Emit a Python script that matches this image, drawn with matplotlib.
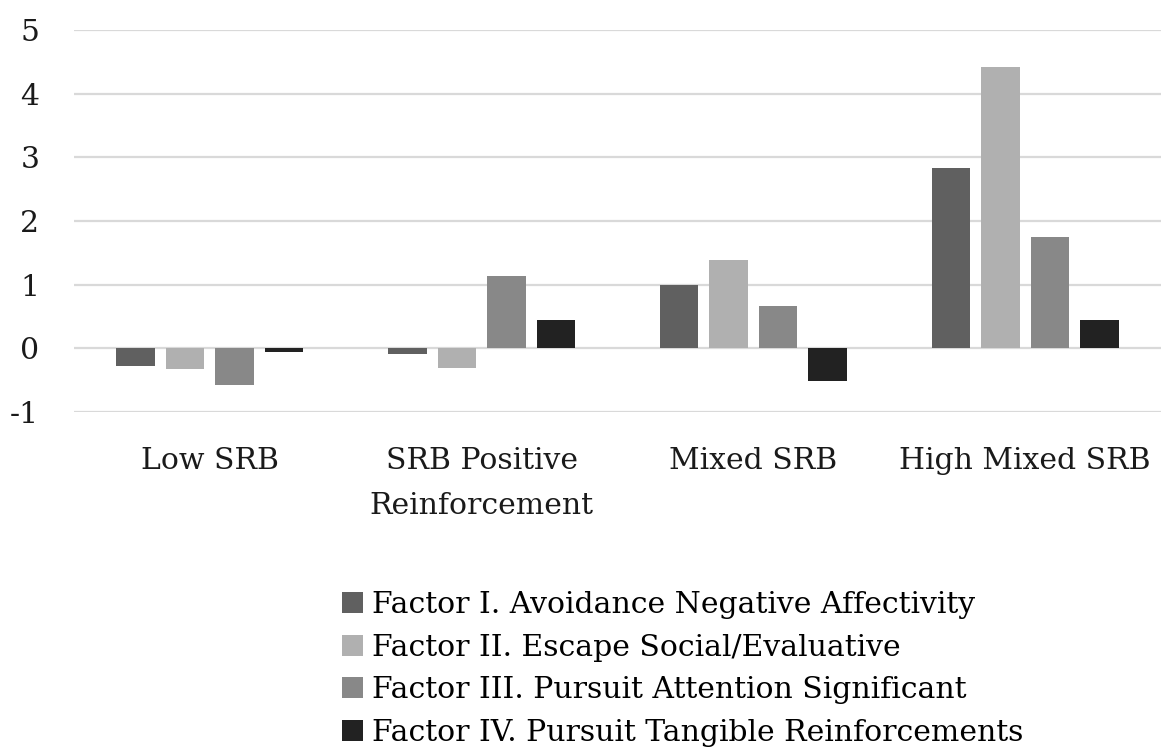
import matplotlib.pyplot as plt
import numpy as np

plt.rcParams['font.family'] = ['DejaVu Serif']

categories = ['Low SRB', 'SRB Positive\nReinforcement', 'Mixed SRB', 'High Mixed SRB']
series = ['Factor I. Avoidance Negative Affectivity',
          'Factor II. Escape Social/Evaluative',
          'Factor III. Pursuit Attention Significant',
          'Factor IV. Pursuit Tangible Reinforcements']
factor1 = [-0.28, -0.09, 1.00, 2.83]
factor2 = [-0.33, -0.31, 1.38, 4.42]
factor3 = [-0.58, 1.14, 0.66, 1.75]
factor4 = [-0.06, 0.45, -0.51, 0.44]
colors = ['#606060', '#b0b0b0', '#888888', '#222222']
yticks = [-1, 0, 1, 2, 3, 4, 5]

fig = plt.figure(figsize=(11.61, 7.56), dpi=100)
ax = fig.add_axes([74 / 1161, 1 - 412 / 756, 1 - 74 / 1161, (412 - 30) / 756])

x = np.arange(len(categories))
slot = 0.182
width = 0.142
for i, (vals, name) in enumerate(zip([factor1, factor2, factor3, factor4], series)):
    ax.bar(x + (i - 1.5) * slot, vals, width, color=colors[i], label=name, zorder=3)

ax.set_xlim(-0.5, len(categories) - 0.5)
ax.set_ylim(-1, 5)
ax.set_yticks(yticks)
ax.set_yticklabels([str(t) for t in yticks])
ax.yaxis.grid(True, color='#d9d9d9', linewidth=1.6, zorder=0)
ax.set_xticks(x)
ax.set_xticklabels(categories, linespacing=1.8)
ax.tick_params(axis='both', length=0, labelsize=21.5, colors='#1a1a1a')
ax.tick_params(axis='x', pad=25)
ax.tick_params(axis='y', pad=25)
for s in ax.spines.values():
    s.set_visible(False)

fig.legend(loc='upper left', bbox_to_anchor=(330 / 1161, 1 - 579 / 756),
           frameon=False, fontsize=21.5, handlelength=0.72, handleheight=0.7,
           handletextpad=0.3, labelspacing=0.49, borderaxespad=0)

fig.savefig('out.png', dpi=100)
